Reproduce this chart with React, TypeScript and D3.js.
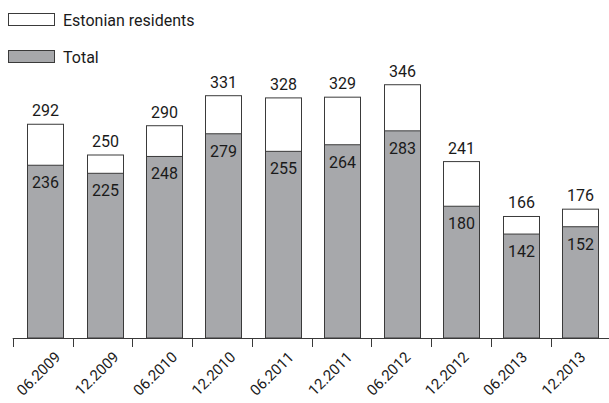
import React from "react";
import * as d3 from "d3";

const categories = ["06.2009", "12.2009", "06.2010", "12.2010", "06.2011", "12.2011", "06.2012", "12.2012", "06.2013", "12.2013"];
const estonianResidents = [292, 250, 290, 331, 328, 329, 346, 241, 166, 176];
const total = [236, 225, 248, 279, 255, 264, 283, 180, 142, 152];
const legendLabels = ["Estonian residents", "Total"];

const W = 609;
const H = 403;
const FONT = "Roboto, 'Open Sans', sans-serif";
const GRAY = "#a7a8ab";
const STROKE = "#3a3a3a";

export default function App() {
  const baseY = 338;
  const y = d3.scaleLinear().domain([0, 400]).range([baseY, baseY - 292.8]);
  // bar positions
  const xBar = d3.scaleBand<string>().domain(categories).range([15.6, 609.6]).paddingInner(0).paddingOuter(0);
  // tick positions (band boundaries)
  const xTick = d3.scaleBand<string>().domain(categories).range([12.7, 610.7]);
  // label anchors
  const xLabel = d3.scalePoint<string>().domain(categories).range([61.5, 586.5]);
  const barW = 36;

  return (
    <svg width={W} height={H} style={{ position: "absolute", left: 0, top: 0, background: "#fff" }} fontFamily={FONT}>
      {/* legend */}
      <g>
        <rect x={8.5} y={13.5} width={46} height={12} fill="#fff" stroke={STROKE} strokeWidth={1} />
        <text x={63} y={26} fontSize={16} fill="#1a1a1a">{legendLabels[0]}</text>
        <rect x={8.5} y={50.5} width={46} height={12} fill={GRAY} stroke={STROKE} strokeWidth={1} />
        <text x={63} y={63} fontSize={16} fill="#1a1a1a">{legendLabels[1]}</text>
      </g>
      {/* bars */}
      {categories.map((c, i) => {
        const cx = (xBar(c) as number) + xBar.bandwidth() / 2;
        const x0 = Math.round(cx - barW / 2) + 0.5;
        const yTop = y(estonianResidents[i]);
        const yIn = y(total[i]);
        return (
          <g key={c}>
            <rect x={x0} y={yTop} width={barW} height={baseY - yTop} fill="#fff" stroke={STROKE} strokeWidth={1} />
            <rect x={x0} y={yIn} width={barW} height={baseY - yIn} fill={GRAY} stroke={STROKE} strokeWidth={1} />
            <text x={x0 + barW / 2} y={yTop - 8} textAnchor="middle" fontSize={16} fill="#1a1a1a">{estonianResidents[i]}</text>
            <text x={x0 + barW / 2} y={yIn + 23} textAnchor="middle" fontSize={16} fill="#1a1a1a">{total[i]}</text>
          </g>
        );
      })}
      {/* axis */}
      <line x1={12.7} x2={W} y1={baseY + 0.5} y2={baseY + 0.5} stroke={STROKE} strokeWidth={1} />
      {categories.map((c) => {
        const tx = Math.round(xTick(c) as number) + 0.5;
        return <line key={"t" + c} x1={tx} x2={tx} y1={baseY} y2={baseY + 9} stroke={STROKE} strokeWidth={1} />;
      })}
      {categories.map((c) => (
        <text
          key={"l" + c}
          transform={`translate(${xLabel(c)},${358}) rotate(-45)`}
          textAnchor="end"
          fontSize={15}
          fill="#1a1a1a"
        >
          {c}
        </text>
      ))}
    </svg>
  );
}
